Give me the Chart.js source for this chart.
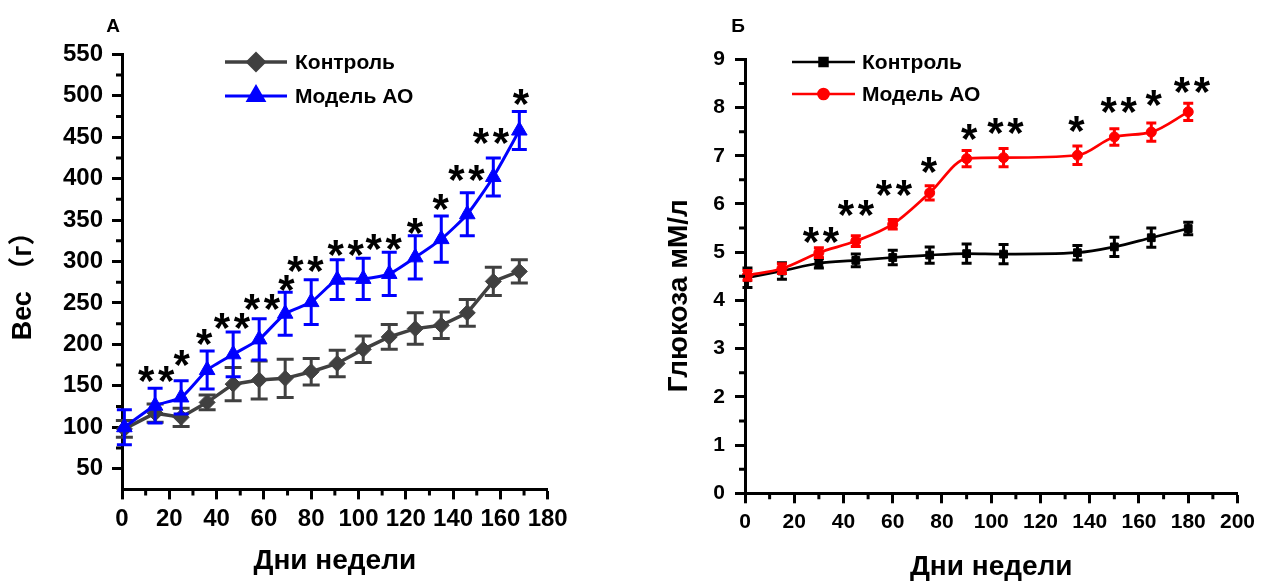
<!DOCTYPE html>
<html>
<head>
<meta charset="utf-8">
<script src="https://cdn.jsdelivr.net/npm/chart.js@4.4.1/dist/chart.umd.min.js"></script>
<style>
  body { margin: 0; background: #fff; }
  #boxA { position: absolute; left: 0; top: 0; width: 640px; height: 583px; }
  #boxB { position: absolute; left: 640px; top: 0; width: 621px; height: 583px; }
</style>
</head>
<body>
<div id="boxA"><canvas id="chartA"></canvas></div>
<div id="boxB"><canvas id="chartB"></canvas></div>
<script>
// --- panel A: body weight ---
var weightDays = [1, 14, 25, 36, 47, 58, 69, 80, 91, 102, 113, 124, 135, 146, 157, 168];
var weightControl = [98, 117, 112, 130, 152, 157, 159, 167, 177, 194, 209, 219, 223, 238, 276, 288];
var weightControlErr = [10, 11, 11, 9, 20, 23, 23, 16, 16, 16, 15, 19, 16, 16, 17, 14];
var weightModel = [100, 126, 136, 169, 188, 206, 237, 251, 278, 279, 285, 305, 327, 357, 402, 458];
var weightModelErr = [21, 21, 20, 23, 27, 25, 26, 27, 24, 25, 26, 26, 28, 26, 23, 23];
var weightXTicks = [0, 20, 40, 60, 80, 100, 120, 140, 160, 180];
var weightXMinor = [10, 30, 50, 70, 90, 110, 130, 150, 170];
var weightYTicks = [50, 100, 150, 200, 250, 300, 350, 400, 450, 500, 550];
var weightYMinor = [75, 125, 175, 225, 275, 325, 375, 425, 475, 525];
// significance marks: [day, value, text]
var weightStars = [[14.5, 168, '**'], [25.2, 187, '*'], [34.7, 213, '*'], [46.5, 232, '**'],
  [59.2, 255, '**'], [69.5, 278, '*'], [77.6, 300, '**'], [94.6, 320, '**'], [110.6, 327, '**'],
  [123.9, 347, '*'], [134.7, 375, '*'], [145.6, 410, '**'], [156, 455, '**'], [168.7, 502, '*']];

// --- panel Б: glucose ---
var glucoseDays = [1, 15, 30, 45, 60, 75, 90, 105, 135, 150, 165, 180];
var glucoseControl = [4.47, 4.61, 4.77, 4.83, 4.89, 4.94, 4.97, 4.96, 4.99, 5.11, 5.30, 5.49];
var glucoseControlErr = [0.2, 0.17, 0.1, 0.13, 0.15, 0.17, 0.2, 0.2, 0.15, 0.2, 0.2, 0.13];
var glucoseModel = [4.52, 4.66, 4.99, 5.23, 5.58, 6.23, 6.94, 6.96, 7.01, 7.39, 7.49, 7.91];
var glucoseModelErr = [0.1, 0.1, 0.1, 0.11, 0.1, 0.15, 0.17, 0.19, 0.19, 0.17, 0.19, 0.18];
var glucoseXTicks = [0, 20, 40, 60, 80, 100, 120, 140, 160, 180, 200];
var glucoseXMinor = [10, 30, 50, 70, 90, 110, 130, 150, 170, 190];
var glucoseYTicks = [0, 1, 2, 3, 4, 5, 6, 7, 8, 9];
var glucoseYMinor = [0.5, 1.5, 2.5, 3.5, 4.5, 5.5, 6.5, 7.5, 8.5];
var glucoseStars = [[30.8, 5.42, '**'], [45, 5.97, '**'], [60.5, 6.39, '**'], [74.7, 6.87, '*'],
  [91, 7.56, '*'], [105.8, 7.67, '**'], [134.6, 7.73, '*'], [151.8, 8.11, '**'], [166, 8.25, '*'],
  [181.5, 8.53, '**']];

var FONT = "'Liberation Sans', Arial, 'Noto Sans CJK SC', sans-serif";

function pts(xs, ys) {
    return xs.map(function (x, i) { return { x: x, y: ys[i] }; });
}

// error bars, drawn just under each dataset's own line/markers
var errorBars = {
    id: 'errorBars',
    beforeDatasetDraw: function (chart, args) {
        var ds = chart.data.datasets[args.index];
        if (!ds.errors) return;
        var ys = chart.scales.y, ctx = chart.ctx;
        ctx.save();
        ctx.strokeStyle = ds.borderColor;
        ctx.lineWidth = ds.errWidth;
        args.meta.data.forEach(function (p, i) {
            var v = ds.data[i].y, e = ds.errors[i];
            var top = ys.getPixelForValue(v + e), bot = ys.getPixelForValue(v - e);
            var c = ds.errCap / 2;
            ctx.beginPath();
            ctx.moveTo(p.x, top); ctx.lineTo(p.x, bot);
            ctx.moveTo(p.x - c, top); ctx.lineTo(p.x + c, top);
            ctx.moveTo(p.x - c, bot); ctx.lineTo(p.x + c, bot);
            ctx.stroke();
        });
        ctx.restore();
    }
};

// minor ticks, stars, legend and panel letter
var extras = {
    id: 'extras',
    afterDraw: function (chart, args, o) {
        var ctx = chart.ctx, xs = chart.scales.x, ys = chart.scales.y, a = chart.chartArea;
        ctx.save();
        ctx.strokeStyle = '#000';
        ctx.lineWidth = 3;
        ctx.beginPath();
        o.yMinor.forEach(function (v) {
            var y = ys.getPixelForValue(v);
            ctx.moveTo(a.left, y); ctx.lineTo(a.left - 6, y);
        });
        o.xMinor.forEach(function (v) {
            var x = xs.getPixelForValue(v);
            ctx.moveTo(x, a.bottom); ctx.lineTo(x, a.bottom + 6);
        });
        ctx.stroke();

        // significance stars
        ctx.fillStyle = '#000';
        ctx.font = 'bold 42px ' + FONT;
        ctx.textAlign = 'center';
        ctx.textBaseline = 'alphabetic';
        o.stars.forEach(function (s) {
            var cx = xs.getPixelForValue(s[0]), cy = ys.getPixelForValue(s[1]);
            var n = s[2].length;
            for (var k = 0; k < n; k++) {
                ctx.fillText('*', cx + (k - (n - 1) / 2) * 20, cy + 24);
            }
        });

        // legend
        ctx.textAlign = 'left';
        ctx.textBaseline = 'middle';
        ctx.font = 'bold 21px ' + FONT;
        o.legend.rows.forEach(function (r, i) {
            var ds = chart.data.datasets[r.index];
            ctx.strokeStyle = ds.borderColor;
            ctx.fillStyle = ds.borderColor;
            ctx.lineWidth = ds.borderWidth;
            ctx.beginPath();
            ctx.moveTo(o.legend.x1, r.y); ctx.lineTo(o.legend.x2, r.y);
            ctx.stroke();
            Chart.helpers.drawPoint(ctx, { pointStyle: ds.pointStyle, radius: ds.pointRadius, rotation: 0, borderWidth: 1 },
                (o.legend.x1 + o.legend.x2) / 2, r.y);
            ctx.fillStyle = '#000';
            ctx.fillText(ds.label, o.legend.textX, r.y + 1);
        });

        ctx.font = 'bold 19px ' + FONT;
        ctx.textAlign = 'center';
        ctx.textBaseline = 'alphabetic';
        ctx.fillText(o.letter.text, o.letter.x, o.letter.y);
        ctx.restore();
    }
};

function axis(ticks, min, max, fontSize, pad, size, horizontal, title) {
    return {
        type: 'linear',
        min: min,
        max: max,
        afterBuildTicks: function (s) { s.ticks = ticks.map(function (v) { return { value: v }; }); },
        afterFit: function (s) { if (horizontal) s.height = size; else s.width = size; },
        border: { display: true, color: '#000', width: 3 },
        grid: { drawOnChartArea: false, drawTicks: true, tickLength: 10, tickWidth: 3, tickColor: '#000' },
        ticks: { color: '#000', font: { family: FONT, size: fontSize, weight: 'bold' }, padding: pad, autoSkip: false, maxRotation: 0 },
        title: title
    };
}

var chartA = new Chart(document.getElementById('chartA'), {
    type: 'line',
    data: {
        datasets: [
            {
                label: 'Контроль',
                data: pts(weightDays, weightControl),
                errors: weightControlErr, errCap: 17, errWidth: 3,
                borderColor: '#404040', backgroundColor: '#404040',
                borderWidth: 3.5, tension: 0,
                pointStyle: 'rectRot', pointRadius: 8, pointBorderWidth: 1,
                order: 1, clip: false
            },
            {
                label: 'Модель АО',
                data: pts(weightDays, weightModel),
                errors: weightModelErr, errCap: 15, errWidth: 3,
                borderColor: '#0000ff', backgroundColor: '#0000ff',
                borderWidth: 3, tension: 0.2,
                pointStyle: 'triangle', pointRadius: 9, pointBorderWidth: 1,
                order: 0, clip: false
            }
        ]
    },
    options: {
        responsive: true,
        maintainAspectRatio: false,
        animation: false,
        layout: { padding: { top: 54.3, right: 92.3, left: 0, bottom: 0 } },
        scales: {
            x: axis(weightXTicks, 0, 180, 24, 6, 93.6, true,
                { display: true, text: 'Дни недели', color: '#000', font: { family: FONT, size: 28, weight: 'bold', lineHeight: 1.2 }, padding: { top: 0, bottom: 5 } }),
            y: axis(weightYTicks, 25, 550, 24, 9, 122, false,
                { display: true, text: 'Вес （г）\u00a0\u00a0', color: '#000', font: { family: FONT, size: 27, weight: 'bold', lineHeight: 1.2 }, padding: { top: 7, bottom: 0 } })
        },
        plugins: {
            legend: { display: false },
            tooltip: { enabled: false },
            extras: {
                xMinor: weightXMinor, yMinor: weightYMinor, stars: weightStars,
                legend: { x1: 225, x2: 287, textX: 295, rows: [{ index: 0, y: 62 }, { index: 1, y: 96 }] },
                letter: { text: 'А', x: 113, y: 32 }
            }
        }
    },
    plugins: [errorBars, extras]
});

var chartB = new Chart(document.getElementById('chartB'), {
    type: 'line',
    data: {
        datasets: [
            {
                label: 'Контроль',
                data: pts(glucoseDays, glucoseControl),
                errors: glucoseControlErr, errCap: 10, errWidth: 3,
                borderColor: '#000000', backgroundColor: '#000000',
                borderWidth: 2.7, cubicInterpolationMode: 'monotone',
                pointStyle: 'rect', pointRadius: 5.5, pointBorderWidth: 1,
                order: 1, clip: false
            },
            {
                label: 'Модель АО',
                data: pts(glucoseDays, glucoseModel),
                errors: glucoseModelErr, errCap: 10, errWidth: 3,
                borderColor: '#ff0000', backgroundColor: '#ff0000',
                borderWidth: 2.7, cubicInterpolationMode: 'monotone',
                pointStyle: 'circle', pointRadius: 5, pointBorderWidth: 1,
                order: 0, clip: false
            }
        ]
    },
    options: {
        responsive: true,
        maintainAspectRatio: false,
        animation: false,
        layout: { padding: { top: 59.3, right: 22, left: 0, bottom: 0 } },
        scales: {
            x: axis(glucoseXTicks, 0, 200, 21, 6, 89.7, true,
                { display: true, text: 'Дни недели', color: '#000', font: { family: FONT, size: 28, weight: 'bold', lineHeight: 1.1 }, padding: { top: 0, bottom: 0 } }),
            y: axis(glucoseYTicks, 0, 9, 21, 10, 105, false,
                { display: true, text: 'Глюкоза мМ/л\u00a0\u00a0\u00a0\u00a0\u00a0', color: '#000', font: { family: FONT, size: 28, weight: 'bold', lineHeight: 1.2 }, padding: { top: 22, bottom: 0 } })
        },
        plugins: {
            legend: { display: false },
            tooltip: { enabled: false },
            extras: {
                xMinor: glucoseXMinor, yMinor: glucoseYMinor, stars: glucoseStars,
                legend: { x1: 152, x2: 215, textX: 222, rows: [{ index: 0, y: 62 }, { index: 1, y: 94 }] },
                letter: { text: 'Б', x: 98, y: 32 }
            }
        }
    },
    plugins: [errorBars, extras]
});
</script>
</body>
</html>
